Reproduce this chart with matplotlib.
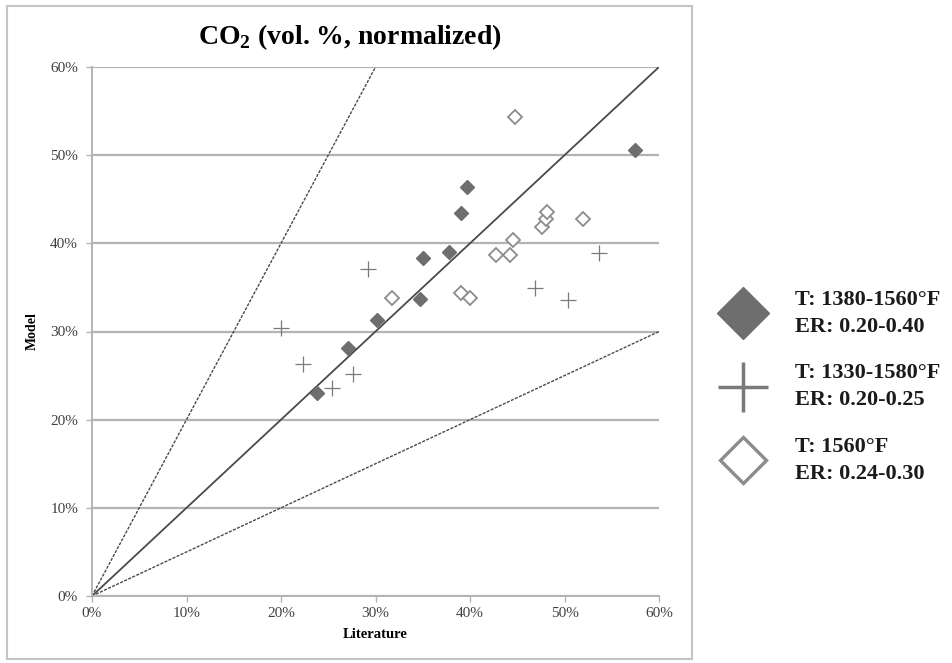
import matplotlib
matplotlib.use("Agg")
import matplotlib.pyplot as plt
from matplotlib.lines import Line2D
from matplotlib.patches import Rectangle
from matplotlib.ticker import FuncFormatter

plt.rcParams["font.family"] = ["Liberation Serif", "DejaVu Serif"]
plt.rcParams["mathtext.fontset"] = "custom"
plt.rcParams["mathtext.rm"] = "Liberation Serif:bold"

# CO2 values (vol. %), literature vs. model
lit_a = [23.8, 27.1, 30.2, 34.7, 35.0, 37.8, 39.0, 39.7, 57.5]
mod_a = [23.0, 28.1, 31.3, 33.7, 38.3, 39.0, 43.4, 46.4, 50.6]

lit_b = [20.0, 22.3, 25.4, 27.6, 29.2, 46.9, 50.4, 53.7]
mod_b = [30.4, 26.3, 23.6, 25.2, 37.1, 34.9, 33.6, 38.9]

lit_c = [31.7, 39.0, 40.0, 42.8, 44.2, 44.6, 47.6, 48.0, 48.1, 52.0, 44.8]
mod_c = [33.8, 34.4, 33.8, 38.7, 38.7, 40.4, 41.9, 42.8, 43.6, 42.8, 54.3]

series_labels = [
    "T: 1380-1560°F\nER: 0.20-0.40",
    "T: 1330-1580°F\nER: 0.20-0.25",
    "T: 1560°F\nER: 0.24-0.30",
]
ticks = [0, 10, 20, 30, 40, 50, 60]
ref_slopes = [1.0, 2.0, 0.5]  # parity line and 2x / 0.5x bounds

GRID = "#b3b3b3"
DARK_FILL = "#6e6e6e"
OPEN_EDGE = "#8c8c8c"
CROSS = "#7a7a7a"

fig = plt.figure(figsize=(9.52, 6.63), dpi=100)
ax = fig.add_axes([92 / 952, 1 - 596 / 663, (659 - 92) / 952, (596 - 67) / 663])

# chart-area frame
fig.add_artist(Rectangle((7 / 952, 1 - 659 / 663), (692 - 7) / 952, (659 - 6) / 663,
                         transform=fig.transFigure, fill=False,
                         edgecolor="#c4c4c4", linewidth=1.5))

ax.set_xlim(0, 60)
ax.set_ylim(0, 60)
ax.set_xticks(ticks)
ax.set_yticks(ticks)
pct = FuncFormatter(lambda v, p: f"{int(v)}%")
ax.xaxis.set_major_formatter(pct)
ax.yaxis.set_major_formatter(pct)

ax.grid(axis="y", color=GRID, linewidth=1.6)
ax.set_axisbelow(True)
for s in ("top", "right"):
    ax.spines[s].set_visible(False)
for s in ("left", "bottom"):
    ax.spines[s].set_color(GRID)
    ax.spines[s].set_linewidth(1.4)
ax.tick_params(direction="out", length=4, width=1, color=GRID,
               labelsize=11, labelcolor="#404040")
ax.tick_params(axis="y", pad=6)
ax.tick_params(axis="x", pad=4)

# reference lines
for k in ref_slopes:
    x_end = min(60, 60 / k)
    if k == 1.0:
        ax.plot([0, x_end], [0, k * x_end], color="#4a4a4a", linewidth=1.3, zorder=2)
    else:
        ax.plot([0, x_end], [0, k * x_end], color="#4a4a4a", linewidth=1.0,
                linestyle=(0, (2.2, 1.0)), zorder=2)

ax.plot(lit_a, mod_a, linestyle="none", marker="D", markersize=7.0,
        markerfacecolor=DARK_FILL, markeredgecolor=DARK_FILL, zorder=3)
ax.plot(lit_b, mod_b, linestyle="none", marker="+", markersize=11.5,
        markeredgewidth=0.9, color=CROSS, zorder=3)
ax.plot(lit_c, mod_c, linestyle="none", marker="D", markersize=7.0,
        markerfacecolor="white", markeredgecolor=OPEN_EDGE,
        markeredgewidth=1.3, zorder=3)

ax.set_xlabel("Literature", fontsize=10.5, fontweight="bold", labelpad=6)
ax.set_ylabel("Model", fontsize=10, fontweight="bold", labelpad=8)

fig.text(349.5 / 952, 1 - 37 / 663, r"CO$_{\mathrm{2}}$ (vol. %, normalized)",
         ha="center", va="center", fontsize=20, fontweight="bold")

handles = [
    Line2D([], [], linestyle="none", marker="D", markersize=26,
           markerfacecolor=DARK_FILL, markeredgecolor=DARK_FILL),
    Line2D([], [], linestyle="none", marker="+", markersize=36,
           markeredgewidth=2.5, color=CROSS),
    Line2D([], [], linestyle="none", marker="D", markersize=23,
           markerfacecolor="white", markeredgecolor=OPEN_EDGE, markeredgewidth=2.4),
]
leg = fig.legend(handles, series_labels, loc="upper left",
                 bbox_to_anchor=(701 / 952, 1 - 270 / 663),
                 frameon=False, prop={"size": 16, "weight": "bold"},
                 handlelength=2.0, handletextpad=1.35, labelspacing=1.2,
                 borderpad=0.4)
for t in leg.get_texts():
    t.set_linespacing(1.45)
    t.set_color("#1a1a1a")

fig.savefig("out.png", dpi=100)
